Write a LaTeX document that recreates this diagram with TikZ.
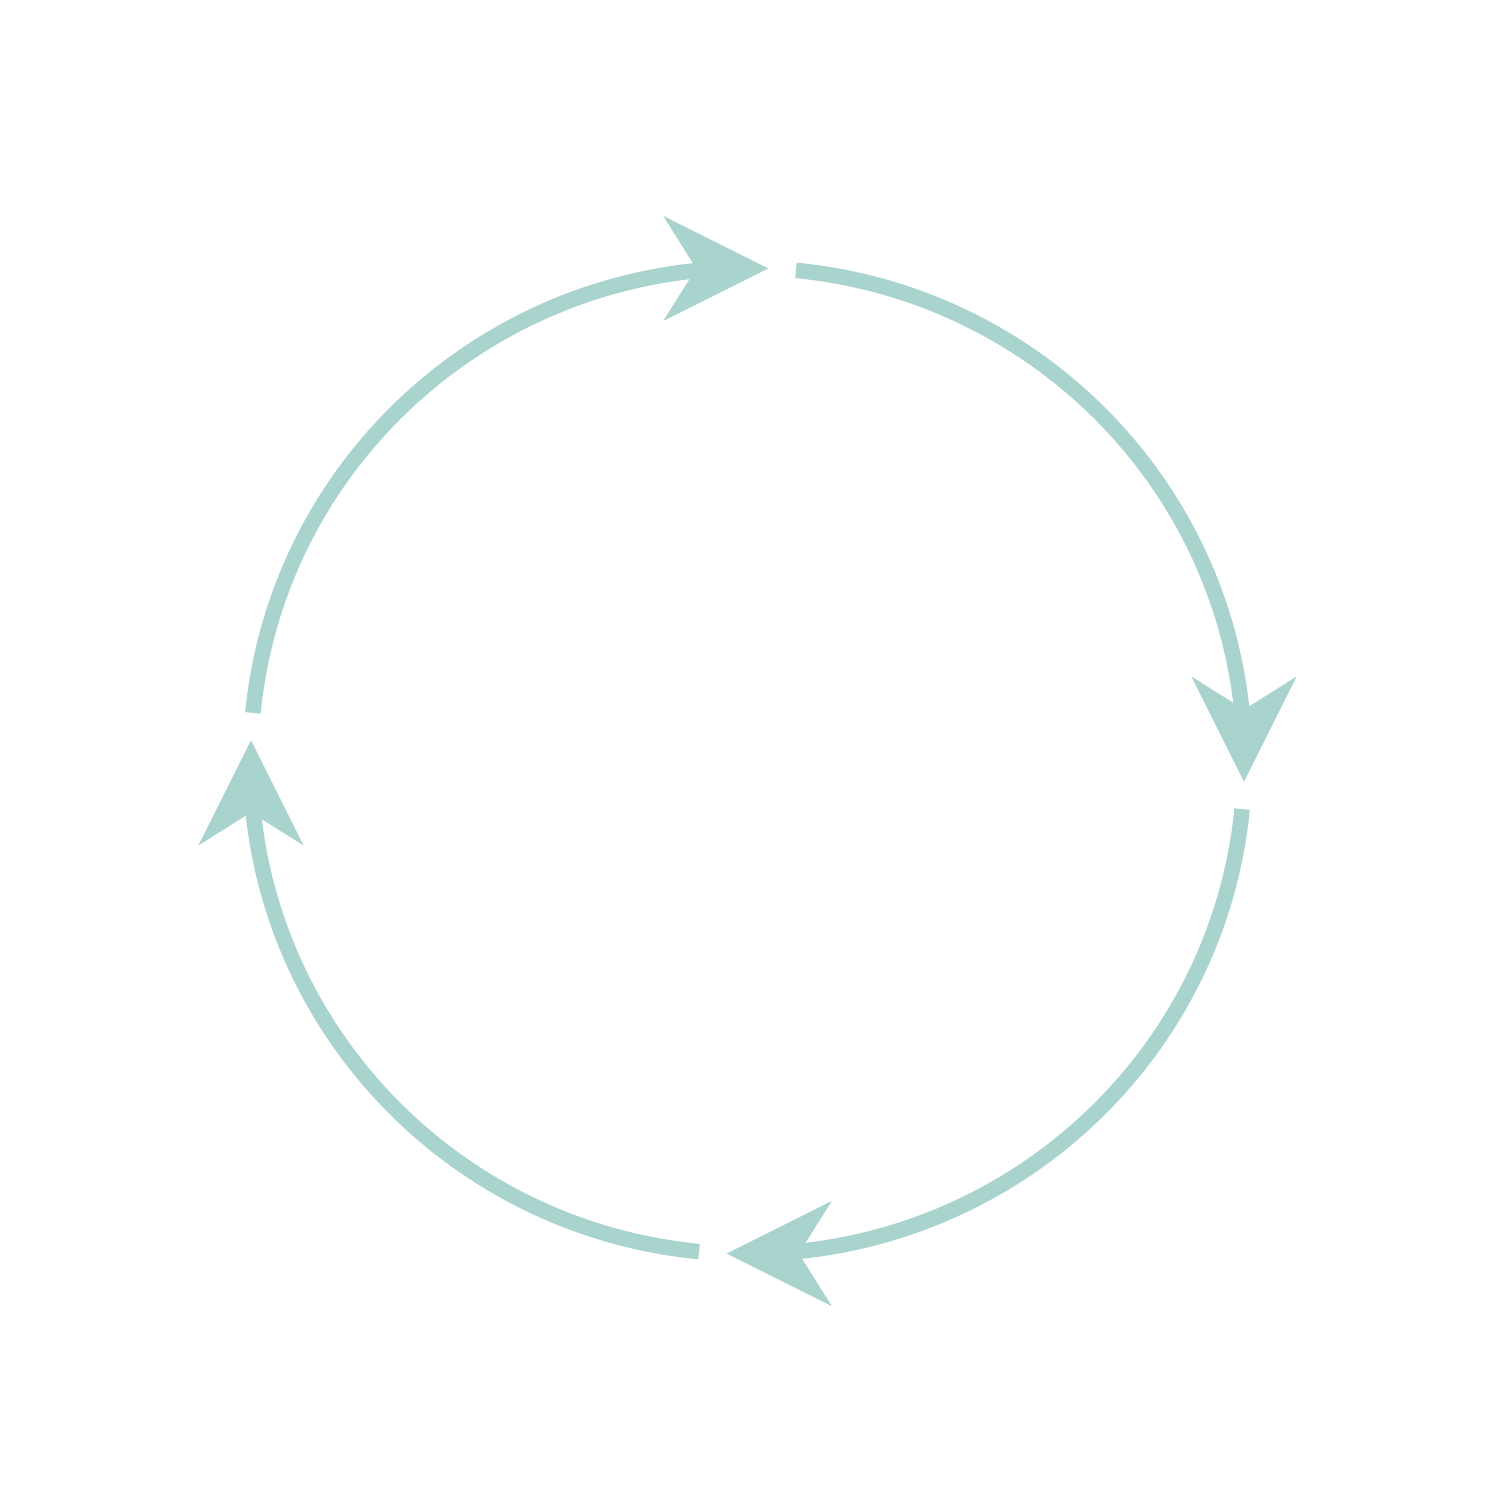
\documentclass[tikz,border=0pt]{standalone}
\usepackage{xcolor}
\usepackage{tikz}
\usetikzlibrary{arrows.meta}
\definecolor{cyclecol}{RGB}{169,211,205}
\tikzset{cyclearc/.style={draw=cyclecol,line width=0.155cm},
  tiphead/.style={draw=cyclecol,line width=0.2pt,-{Stealth[length=1.05cm,width=1.05cm,inset=0.33cm]}}}

\begin{document}
\begin{tikzpicture}
\useasboundingbox (0,0) rectangle (15,15);
\coordinate (centre) at (7.475,7.39);
\foreach \a/\n in {0/r,-90/b,-180/l,-270/t}{
  \path (centre) ++(\a-2.4:4.97 and 4.93) coordinate (tip\n);
  \draw[cyclearc] (centre) ++(\a+84.4:4.97 and 4.93)
    arc[start angle=\a+84.4,end angle=\a+3.4,x radius=4.97,y radius=4.93];
  \draw[tiphead] (tip\n) ++(\a+90:0.8) -- (tip\n);
}
\end{tikzpicture}
\end{document}
